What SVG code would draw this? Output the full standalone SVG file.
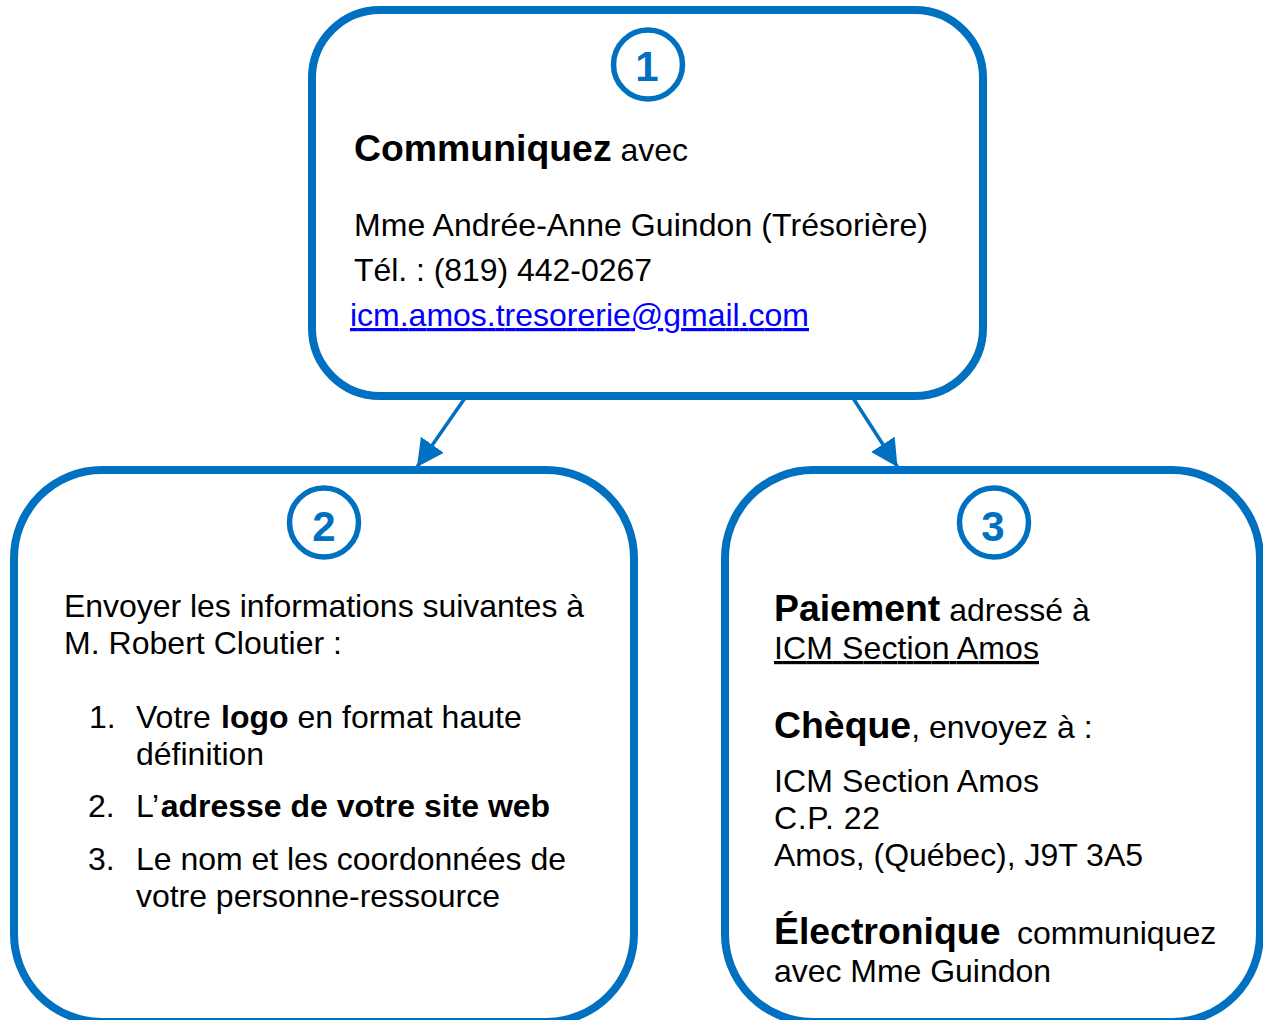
<svg xmlns="http://www.w3.org/2000/svg" width="1263" height="1020" viewBox="0 0 1263 1020">
<style>
text{font-family:"Liberation Sans",Arial,sans-serif;font-size:32px;fill:#000}
.b{font-weight:bold}
.h{font-weight:bold;font-size:37.400px}
.box{fill:#fff;stroke:#0070c0;stroke-width:8}
.circ{fill:#fff;stroke:#0070c0;stroke-width:5.500}
.num{font-weight:bold;font-size:42px;fill:#0070c0;text-anchor:middle}
.c{stroke:#0070c0;stroke-width:3.500;fill:none}
</style>
<defs><marker id="a" markerUnits="userSpaceOnUse" markerWidth="30" markerHeight="30" refX="27" refY="14" orient="auto"><path d="M0 0L27 14L0 28Z" fill="#0070c0"/></marker></defs>
<g id="connectors">
<path class="c" d="M465 398L417 467" marker-end="url(#a)"/>
<path class="c" d="M853 398L897.500 467" marker-end="url(#a)"/>
</g>
<g id="node1">
<rect class="box" x="312" y="10" width="671" height="386" rx="68"/>
<circle class="circ" cx="648" cy="64.500" r="34.500"/>
<text class="num" x="647" y="81">1</text>
<text x="354" y="161"><tspan class="h">Communiquez</tspan> avec</text>
<text x="354" y="236" textLength="574">Mme Andrée-Anne Guindon (Trésorière)</text>
<text x="354" y="281" textLength="298">Tél. : (819) 442-0267</text>
<text x="350" y="326" textLength="459" style="fill:#0000ff" text-decoration="underline">icm.amos.tresorerie@gmail.com</text>
</g>
<g id="node2">
<rect class="box" x="14" y="470" width="620" height="552" rx="88"/>
<circle class="circ" cx="324" cy="522.500" r="34.500"/>
<text class="num" x="324" y="541">2</text>
<text x="64" y="617" textLength="520">Envoyer les informations suivantes à</text>
<text x="64" y="654" textLength="278">M. Robert Cloutier :</text>
<text x="89" y="728">1.</text>
<text x="136" y="728">Votre <tspan class="b" dx="1.500">logo</tspan> en format haute</text>
<text x="136" y="765">définition</text>
<text x="88" y="817">2.</text>
<text x="136" y="817">L’<tspan class="b" dx="1.500">adresse de votre site web</tspan></text>
<text x="88" y="870">3.</text>
<text x="136" y="870" textLength="430">Le nom et les coordonnées de</text>
<text x="136" y="907" textLength="364">votre personne-ressource</text>
</g>
<g id="node3">
<rect class="box" x="725" y="470" width="535" height="552" rx="88"/>
<circle class="circ" cx="994" cy="522.500" r="34.500"/>
<text class="num" x="993" y="541">3</text>
<text x="774" y="621"><tspan class="h">Paiement</tspan> adressé à</text>
<text x="774" y="659" text-decoration="underline" textLength="265">ICM Section Amos</text>
<text x="774" y="738"><tspan class="h">Chèque</tspan>, envoyez à :</text>
<text x="774" y="792" textLength="265">ICM Section Amos</text>
<text x="774" y="829" textLength="106">C.P. 22</text>
<text x="774" y="866" textLength="369">Amos, (Québec), J9T 3A5</text>
<text x="774" y="944"><tspan class="h">Électronique</tspan><tspan x="1017">communiquez</tspan></text>
<text x="774" y="982" textLength="277">avec Mme Guindon</text>
</g>
</svg>
